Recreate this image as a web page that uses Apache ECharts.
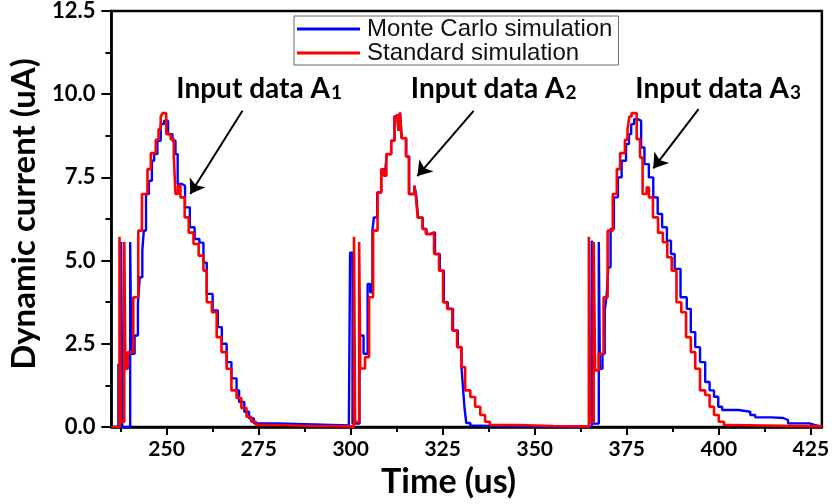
<!DOCTYPE html>
<html>
<head>
<meta charset="utf-8">
<script src="https://cdn.jsdelivr.net/npm/echarts@6/dist/echarts.min.js"></script>
<style>
  html, body { margin: 0; padding: 0; background: #fff; }
  #main { width: 832px; height: 504px; }
</style>
</head>
<body>
<div id="main"></div>
<script>
// step data: [time (us), current (uA)], level holds until next point
const mcPulse1 = [
  [235.0, 0], [236.9, 1.9], [237.3, 0], [237.65, 5.56], [237.95, 0], [240.1, 5.56], [240.4, 2.2],
  [241.3, 2.75], [242.2, 3.7], [242.7, 4.5], [243.4, 5.3], [243.8, 5.9], [244.4, 7.0], [245.2, 7.4],
  [246.0, 8.0], [246.6, 8.2], [247.5, 8.6], [248.4, 9.1], [249.3, 9.2], [250.4, 8.8], [251.6, 8.6],
  [252.4, 8.2], [253.0, 7.3], [254.2, 7.25], [255.0, 6.6], [256.3, 6.0], [257.6, 5.65], [258.9, 5.54],
  [260.0, 4.94], [260.9, 4.0], [262.5, 3.5], [263.9, 3.0], [265.0, 2.5], [266.3, 1.95], [267.6, 1.46],
  [269.0, 1.1], [269.7, 0.75], [271.1, 0.46], [272.4, 0.26], [273.7, 0.11], [280.0, 0.08], [290.0, 0.05],
  [299.5, 0.02]
];
const mcPulse2 = [
  [299.84, 5.24], [300.5, 0.1], [302.4, 2.75], [303.5, 2.2], [304.6, 4.3], [305.3, 4.05], [305.9, 5.9],
  [306.3, 6.3], [307.2, 7.05], [308.3, 7.74], [309.3, 7.6], [309.8, 8.2], [311.0, 8.6], [311.9, 9.33],
  [312.6, 9.4], [313.0, 8.9], [313.4, 9.45], [313.9, 8.68], [315.1, 8.13], [315.9, 7.0], [317.3, 7.25],
  [317.8, 6.95], [318.3, 6.29], [319.6, 5.95], [320.6, 5.8], [321.8, 5.85], [322.9, 5.2], [324.2, 4.7],
  [325.3, 3.75], [326.4, 3.55], [327.8, 2.9], [329.1, 2.4], [330.1, 1.8], [330.5, 1.2], [330.9, 0.6],
  [331.4, 0.12], [332.5, 0.04], [333.5, 0], [362.3, 0.06], [362.8, 0.01]
];
const mcPulse3 = [
  [365.5, 5.6], [365.9, 0.1], [367.4, 5.56], [367.7, 1.75], [368.4, 2.2], [369.0, 3.5], [369.5, 3.9],
  [370.0, 4.8], [370.6, 5.95], [371.5, 6.9], [372.6, 7.5], [373.6, 8.0], [374.8, 8.5], [375.6, 8.8],
  [376.2, 9.1], [377.0, 9.25], [378.0, 9.2], [378.9, 8.4], [379.8, 7.9], [381.0, 7.5], [382.2, 6.9],
  [383.4, 6.4], [384.6, 6.0], [385.9, 5.6], [387.0, 5.2], [388.0, 4.75], [389.6, 3.9], [391.3, 3.55],
  [392.4, 2.85], [393.6, 2.4], [394.9, 1.95], [396.3, 1.35], [397.5, 1.1], [398.7, 0.91], [399.85, 0.61],
  [400.9, 0.51], [405.4, 0.46], [408.55, 0.36], [409.9, 0.29], [414.3, 0.27], [417.5, 0.21], [418.8, 0.11],
  [424.65, 0.06], [426.0, 0.01], [428.0, 0.01]
];
const stdPulse1 = [
  [235.0, 0], [237.2, 5.72], [237.5, 0.15], [238.5, 5.56], [238.8, 1.75], [239.45, 2.25], [240.95, 3.9],
  [242.3, 5.9], [243.3, 7.0], [244.8, 7.75], [245.7, 8.23], [247.05, 8.63], [247.8, 8.95], [248.4, 9.33],
  [248.9, 9.43], [249.9, 8.8], [251.1, 8.65], [251.95, 8.13], [252.4, 7.0], [253.1, 7.25], [253.75, 6.9],
  [254.9, 6.3], [256.0, 5.84], [257.3, 5.5], [258.7, 5.15], [260.0, 4.7], [260.9, 3.75], [262.3, 3.45],
  [263.6, 2.7], [264.9, 2.25], [266.3, 1.75], [267.6, 1.1], [269.0, 0.87], [270.3, 0.57], [271.7, 0.31],
  [273.0, 0.16], [274.3, 0.06], [280.0, 0.03], [290.0, 0.02], [300.0, 0.01]
];
const stdPulse2 = [
  [300.9, 5.72], [301.2, 0.15], [302.3, 5.56], [302.6, 1.76], [303.9, 2.1], [305.0, 3.9], [306.1, 5.9],
  [307.3, 7.05], [308.3, 7.74], [309.0, 7.55], [309.7, 8.2], [311.0, 8.6], [311.9, 9.33], [312.6, 9.4],
  [313.0, 8.9], [313.4, 9.45], [313.8, 8.68], [315.0, 8.13], [315.8, 7.0], [317.3, 7.25], [317.7, 6.95],
  [318.2, 6.29], [319.5, 5.95], [320.4, 5.8], [321.7, 5.85], [322.65, 5.2], [324.0, 4.7], [325.1, 3.75],
  [326.2, 3.55], [327.6, 2.9], [328.9, 2.4], [330.1, 1.8], [331.1, 1.1], [332.5, 0.9], [333.8, 0.61],
  [335.2, 0.36], [336.5, 0.16], [337.8, 0.06], [345.0, 0.03], [355.0, 0.02], [364.0, 0.01]
];
const stdPulse3 = [
  [364.7, 5.72], [365.1, 0.15], [366.0, 5.56], [366.4, 1.7], [367.4, 2.2], [368.7, 3.9], [369.8, 5.9],
  [371.2, 7.0], [372.3, 7.75], [373.2, 8.23], [374.5, 8.63], [375.2, 8.95], [375.7, 9.33], [376.3, 9.43],
  [377.7, 8.65], [378.6, 8.1], [379.3, 7.0], [380.4, 7.2], [381.0, 6.9], [382.1, 6.3], [383.5, 5.84],
  [384.8, 5.55], [386.0, 5.1], [387.2, 4.7], [388.5, 3.75], [389.8, 3.45], [391.1, 2.7], [392.4, 2.25],
  [393.6, 1.75], [394.9, 1.1], [396.3, 0.96], [397.5, 0.61], [398.7, 0.36], [400.0, 0.16], [401.4, 0.06],
  [402.7, 0.02], [428.0, 0.01]
];

const xTicks = [250, 275, 300, 325, 350, 375, 400, 425];
const xMinorTicks = [237.5, 262.5, 287.5, 312.5, 337.5, 362.5, 387.5, 412.5];

// annotations (data coords)
const annotSubs = ['1', '2', '3'];
const annotAt = [[252.5, 10.2], [316.2, 10.2], [377.2, 10.2]];
const arrowFrom = [[270.6, 9.5], [333.4, 9.5], [394.5, 9.55]];
const arrowTo = [[256.4, 7.0], [318.1, 7.54], [382.2, 7.77]];

const FONT = 'Lato';
const chart = echarts.init(document.getElementById('main'));

const option = {
  animation: false,
  grid: {
    left: 105, right: 7, top: 9, bottom: 77,
    show: true, borderColor: '#000', borderWidth: 2.5
  },
  legend: {
    orient: 'vertical',
    left: 294, top: 16,
    padding: [1, 6, 0, 3],
    itemGap: 0,
    itemWidth: 63, itemHeight: 3,
    icon: 'rect',
    borderColor: '#666', borderWidth: 1,
    textStyle: { fontFamily: 'Liberation Sans', fontSize: 24, color: '#111', lineHeight: 24, padding: [0, 0, 0, 2] },
    data: ['Monte Carlo simulation', 'Standard simulation']
  },
  xAxis: [
    {
      type: 'value', min: 235, max: 428,
      name: 'Time (us)', nameLocation: 'middle', nameGap: 36,
      nameTextStyle: { fontFamily: FONT, fontWeight: 'bold', fontSize: 34, color: '#000', padding: [0, 36, 0, 0] },
      axisLine: { show: true, lineStyle: { color: '#000', width: 2.5 } },
      axisTick: { show: true, customValues: xTicks, length: 8, lineStyle: { color: '#000', width: 2 } },
      axisLabel: { customValues: xTicks, margin: 12, fontFamily: FONT, fontWeight: 'bold', fontSize: 21, color: '#000' },
      splitLine: { show: false }
    },
    {
      type: 'value', min: 235, max: 428, position: 'bottom',
      axisLine: { show: false },
      axisTick: { show: true, customValues: xMinorTicks, length: 5, lineStyle: { color: '#000', width: 2 } },
      axisLabel: { show: false },
      splitLine: { show: false }
    }
  ],
  yAxis: {
    type: 'value', min: 0, max: 12.5, interval: 2.5,
    name: 'Dynamic current (uA)', nameLocation: 'middle', nameGap: 42,
    nameTextStyle: { fontFamily: FONT, fontWeight: 'bold', fontSize: 33, color: '#000', padding: [0, 0, 0, 10] },
    axisLine: { show: true, lineStyle: { color: '#000', width: 2.5 } },
    axisTick: { show: true, length: 10, lineStyle: { color: '#000', width: 2 } },
    minorTick: { show: true, splitNumber: 2, length: 6, lineStyle: { color: '#000', width: 2 } },
    axisLabel: {
      margin: 16, fontFamily: FONT, fontWeight: 'bold', fontSize: 22, color: '#000',
      formatter: v => v.toFixed(1)
    },
    splitLine: { show: false }
  },
  series: [
    {
      name: 'Monte Carlo simulation',
      type: 'line', step: 'end', showSymbol: false,
      data: mcPulse1.concat(mcPulse2, mcPulse3),
      lineStyle: { color: '#0000ff', width: 2.4 },
      itemStyle: { color: '#0000ff' }
    },
    {
      name: 'Standard simulation',
      type: 'line', step: 'end', showSymbol: false,
      data: stdPulse1.concat(stdPulse2, stdPulse3),
      lineStyle: { color: '#ff0000', width: 2.6 },
      itemStyle: { color: '#ff0000' },
      markLine: {
        silent: true,
        symbol: ['none', 'arrow'],
        symbolSize: 14,
        label: { show: false },
        lineStyle: { color: '#000', width: 2, type: 'solid' },
        data: arrowFrom.map((f, i) => [{ coord: f }, { coord: arrowTo[i] }])
      },
      markPoint: {
        silent: true,
        symbol: 'rect', symbolSize: 1,
        itemStyle: { color: 'rgba(0,0,0,0)' },
        label: {
          show: true, position: 'right', distance: 0,
          formatter: p => '{a|Input data A}{s|' + p.name + '}',
          rich: {
            a: { fontFamily: FONT, fontWeight: 'bold', fontSize: 28, color: '#000', lineHeight: 30, verticalAlign: 'bottom' },
            s: { fontFamily: FONT, fontWeight: 'bold', fontSize: 19, color: '#000', lineHeight: 12, verticalAlign: 'bottom', padding: [0, 0, 0, 1] }
          }
        },
        data: annotAt.map((c, i) => ({ name: annotSubs[i], coord: c }))
      }
    }
  ]
};
chart.setOption(option);
</script>
</body>
</html>
